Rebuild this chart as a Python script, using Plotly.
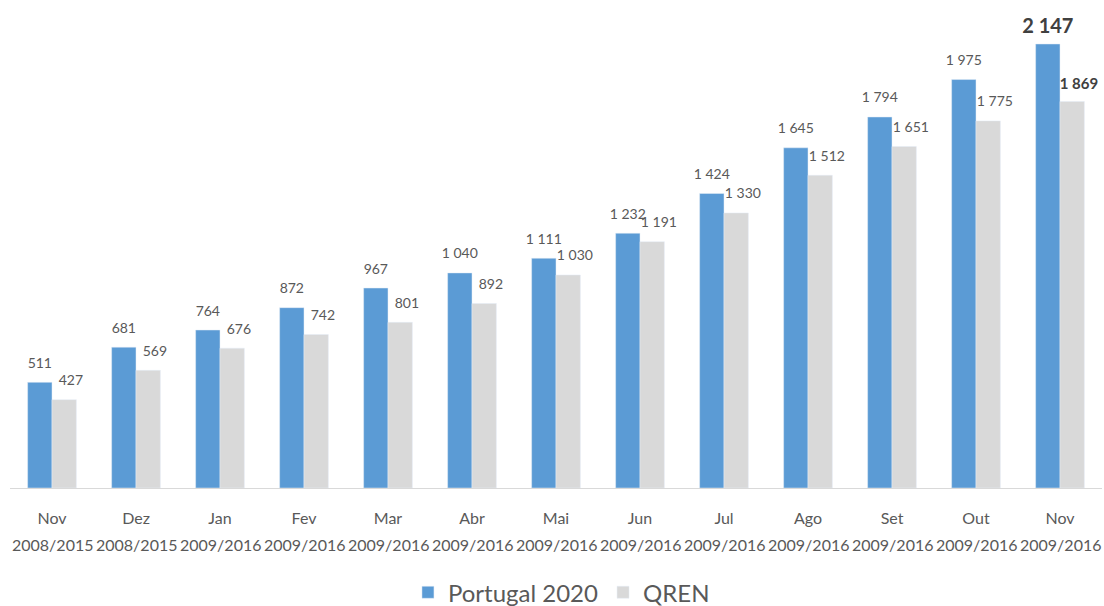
import plotly.graph_objects as go

months = ["Nov", "Dez", "Jan", "Fev", "Mar", "Abr", "Mai", "Jun", "Jul", "Ago", "Set", "Out", "Nov"]
periods = ["2008/2015", "2008/2015", "2009/2016", "2009/2016", "2009/2016", "2009/2016", "2009/2016",
           "2009/2016", "2009/2016", "2009/2016", "2009/2016", "2009/2016", "2009/2016"]
portugal2020 = [511, 681, 764, 872, 967, 1040, 1111, 1232, 1424, 1645, 1794, 1975, 2147]
qren = [427, 569, 676, 742, 801, 892, 1030, 1191, 1330, 1512, 1651, 1775, 1869]

FONT = "Lato, Open Sans, sans-serif"
LABEL = "#595959"
xs = list(range(len(months)))
n = len(months)
BARGAP = 0.42
half = (1 - BARGAP) / 4  # offset of each bar centre inside its group


def fmt(v):
    return f"{v:,}".replace(",", " ")


def texts(vals):
    out = [fmt(v) for v in vals]
    out[-1] = f"<b>{out[-1]}</b>"
    return out


fig = go.Figure()
fig.add_trace(go.Bar(x=xs, y=portugal2020, name="Portugal 2020", marker_color="#5B9BD5",
                     hoverinfo="skip"))
fig.add_trace(go.Bar(x=xs, y=qren, name="QREN", marker_color="#D9D9D9", hoverinfo="skip"))

# value labels (invisible marker gives the gap above each bar)
fig.add_trace(go.Scatter(
    x=[i - half for i in xs], y=portugal2020, mode="markers+text",
    text=texts(portugal2020), textposition="top center",
    marker=dict(size=[16] * (n - 1) + [8], color="rgba(0,0,0,0)", opacity=0,
                line=dict(width=0, color="rgba(0,0,0,0)")),
    textfont=dict(family=FONT, size=[14] * (n - 1) + [20], color=[LABEL] * (n - 1) + ["#404040"]),
    showlegend=False, hoverinfo="skip", cliponaxis=False,
))
fig.add_trace(go.Scatter(
    x=[i + half + 0.08 for i in xs], y=qren, mode="markers+text",
    text=texts(qren), textposition="top center",
    marker=dict(size=[16] * (n - 1) + [12], color="rgba(0,0,0,0)", opacity=0,
                line=dict(width=0, color="rgba(0,0,0,0)")),
    textfont=dict(family=FONT, size=[14] * (n - 1) + [15], color=[LABEL] * (n - 1) + ["#404040"]),
    showlegend=False, hoverinfo="skip", cliponaxis=False,
))

for i, p in zip(xs, periods):
    fig.add_annotation(x=i, y=-0.12, xref="x", yref="paper", text=p, showarrow=False,
                       yanchor="middle", xanchor="center",
                       font=dict(family=FONT, size=16, color=LABEL))

fig.update_layout(
    width=1104, height=606,
    paper_bgcolor="white", plot_bgcolor="white",
    margin=dict(l=10, r=2, t=20, b=118, autoexpand=False),
    barmode="group", bargap=BARGAP, bargroupgap=0,
    font=dict(family=FONT, color=LABEL),
    showlegend=True,
    legend=dict(orientation="h", x=0.505, xanchor="center", yref="container", y=0.022, yanchor="middle",
                font=dict(family=FONT, size=24, color=LABEL),
                traceorder="normal"),
)
fig.update_xaxes(
    tickmode="array", tickvals=xs, ticktext=months,
    range=[-0.5, n - 0.5], automargin=False,
    showline=True, linecolor="#D9D9D9", linewidth=1,
    ticks="", ticklabelstandoff=16, tickfont=dict(family=FONT, size=16, color=LABEL),
    showgrid=False, zeroline=False,
)
fig.update_yaxes(range=[0, 2263], visible=False, showgrid=False, zeroline=False, automargin=False)

fig.write_html("out.html", config={"displayModeBar": False},
               post_script="document.body.style.margin='0';")
